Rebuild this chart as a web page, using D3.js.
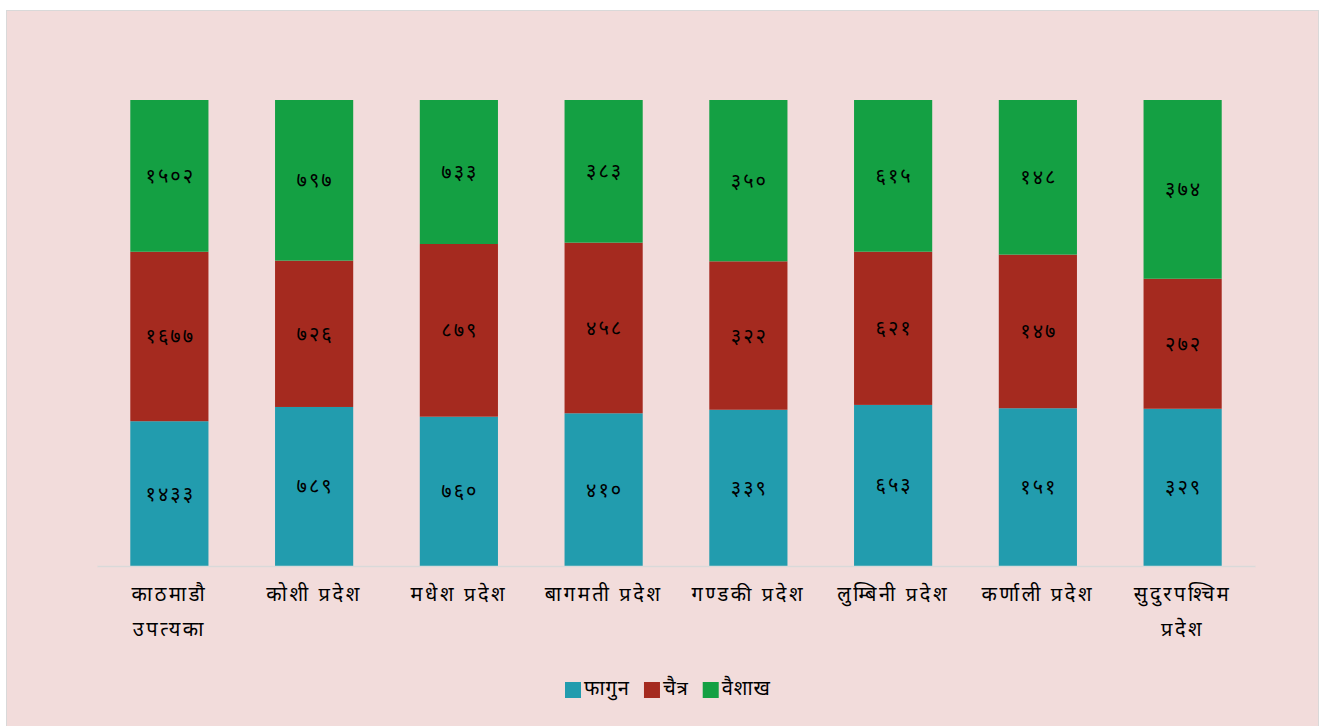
<!DOCTYPE html>
<html>
<head>
<meta charset="utf-8">
<script src="https://cdn.jsdelivr.net/npm/d3@7"></script>
<style>
  body { margin: 0; background: #fff; }
  text { font-family: "Noto Sans", sans-serif; }
</style>
</head>
<body>
<svg id="svg" width="1325" height="726"></svg>
<script>
// data
const provinces = ["काठमाडौ उपत्यका", "कोशी प्रदेश", "मधेश प्रदेश", "बागमती प्रदेश",
  "गण्डकी प्रदेश", "लुम्बिनी प्रदेश", "कर्णाली प्रदेश", "सुदुरपश्चिम प्रदेश"];
const months = ["फागुन", "चैत्र", "वैशाख"];
const fagun = [1433, 789, 760, 410, 339, 653, 151, 329];
const chaitra = [1677, 726, 879, 458, 322, 621, 147, 272];
const baisakh = [1502, 797, 733, 383, 350, 615, 148, 374];
const colors = ["#229cae", "#a52a1f", "#14a043"];

const nepDigits = "०१२३४५६७८९";
const toNep = n => String(n).replace(/[0-9]/g, d => nepDigits[+d]);

const svg = d3.select("#svg");

// background panel
svg.append("rect")
  .attr("x", 6.5).attr("y", 10.5)
  .attr("width", 1312).attr("height", 720)
  .attr("fill", "#f2dcdb")
  .attr("stroke", "#d9d9d9");

const margin = {top: 100, left: 97, right: 1255, bottom: 566};

const x = d3.scaleBand()
  .domain(provinces)
  .range([margin.left, margin.right])
  .paddingInner(0.46)
  .paddingOuter(0.23);

const y = d3.scaleLinear()
  .domain([0, 1])
  .range([margin.bottom, margin.top]);

const rows = provinces.map((p, i) => {
  const tot = fagun[i] + chaitra[i] + baisakh[i];
  return {p, vals: [fagun[i], chaitra[i], baisakh[i]], tot};
});

const keys = [0, 1, 2];
const stack = d3.stack()
  .keys(keys)
  .value((d, k) => d.vals[k] / d.tot);
const series = stack(rows);

const g = svg.append("g");
series.forEach((s, si) => {
  g.selectAll(".seg" + si)
    .data(s)
    .enter()
    .append("rect")
    .attr("x", d => x(d.data.p))
    .attr("width", x.bandwidth())
    .attr("y", d => y(d[1]))
    .attr("height", d => y(d[0]) - y(d[1]))
    .attr("fill", colors[si]);

  g.selectAll(".lab" + si)
    .data(s)
    .enter()
    .append("text")
    .attr("x", d => x(d.data.p) + x.bandwidth() / 2 + 1)
    .attr("y", d => (y(d[0]) + y(d[1])) / 2)
    .attr("dy", "0.35em")
    .attr("text-anchor", "middle")
    .attr("font-size", 20)
    .attr("letter-spacing", 2)
    .attr("fill", "#000")
    .text(d => toNep(d.data.vals[si]));
});

// x axis
const xAxis = svg.append("g")
  .attr("transform", `translate(0,${margin.bottom})`)
  .call(d3.axisBottom(x).tickSize(0).tickPadding(21));
xAxis.select(".domain").attr("stroke", "#d9d9d9").attr("stroke-width", 1.5);
xAxis.selectAll(".tick text")
  .attr("font-size", 20)
  .attr("letter-spacing", 2.6)
  .attr("fill", "#000")
  .style("font-family", "\"Noto Sans\", sans-serif")
  .each(function(d) {
    const t = d3.select(this);
    t.text(d);
    if (this.getComputedTextLength() > x.step()) {
      const parts = d.split(" ");
      t.text(null);
      parts.forEach((w, i) => {
        t.append("tspan").attr("x", 0).attr("dy", i === 0 ? "0.71em" : "1.75em").text(w);
      });
      t.attr("dy", null);
    }
  });

// legend
const legend = svg.append("g").attr("transform", "translate(565,682)");
let lx = 0;
months.forEach((m, i) => {
  const item = legend.append("g").attr("transform", `translate(${lx},0)`);
  item.append("rect").attr("width", 16).attr("height", 16).attr("fill", colors[i]);
  const t = item.append("text")
    .attr("x", 19).attr("y", 6).attr("dy", "0.35em")
    .attr("font-size", 20).attr("letter-spacing", 1).attr("fill", "#000")
    .text(m);
  lx += 19 + t.node().getComputedTextLength() + 14;
});
</script>
</body>
</html>
